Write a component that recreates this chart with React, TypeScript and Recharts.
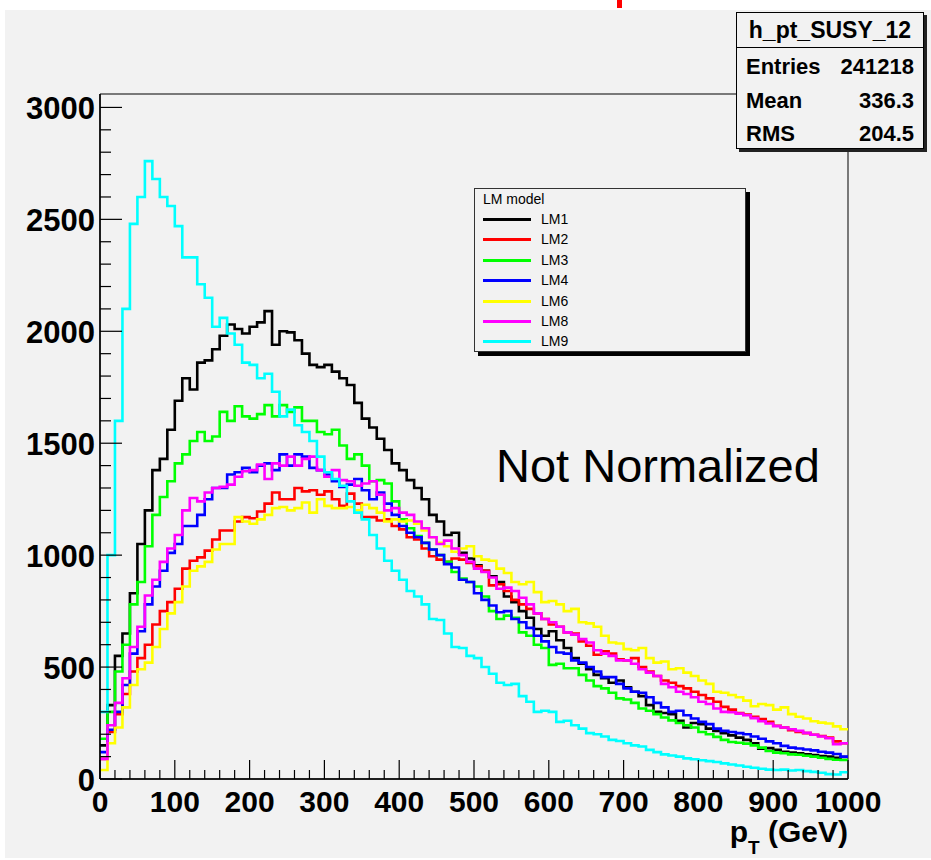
import React from 'react';
import { LineChart, Line, XAxis, YAxis, ReferenceArea } from 'recharts';

// bin low edges in GeV (10 GeV bins)
const binEdges = [
  0, 10, 20, 30, 40, 50, 60, 70, 80, 90, 100, 110, 120, 130, 140, 150, 160, 170, 180, 190,
  200, 210, 220, 230, 240, 250, 260, 270, 280, 290, 300, 310, 320, 330, 340, 350, 360, 370, 380, 390,
  400, 410, 420, 430, 440, 450, 460, 470, 480, 490, 500, 510, 520, 530, 540, 550, 560, 570, 580, 590,
  600, 610, 620, 630, 640, 650, 660, 670, 680, 690, 700, 710, 720, 730, 740, 750, 760, 770, 780, 790,
  800, 810, 820, 830, 840, 850, 860, 870, 880, 890, 900, 910, 920, 930, 940, 950, 960, 970, 980, 990,
  1000,
];

const lm1 = [
  150, 330, 550, 650, 830, 1050, 1200, 1380, 1430, 1560,
  1690, 1790, 1740, 1860, 1870, 1920, 1980, 2030, 2010, 1990,
  2020, 2040, 2090, 1940, 2000, 1995, 1960, 1900, 1850, 1840,
  1850, 1820, 1790, 1760, 1680, 1610, 1570, 1520, 1470, 1410,
  1380, 1335, 1300, 1250, 1180, 1150, 1090, 1100, 1010, 985,
  955, 930, 905, 880, 815, 790, 750, 720, 670, 640,
  660, 620, 585, 540, 515, 490, 465, 450, 430, 440,
  410, 390, 370, 330, 300, 295, 290, 260, 230, 250,
  245, 225, 215, 205, 195, 185, 175, 160, 135, 138,
  130, 122, 118, 115, 110, 107, 102, 100, 95, 98,
];

const lm2 = [
  90, 210, 290, 380, 480, 540, 600, 690, 750, 790,
  850, 940, 975, 990, 1020, 1070, 1110, 1110, 1150, 1170,
  1165, 1195, 1230, 1280, 1250, 1250, 1300, 1285, 1290, 1270,
  1285, 1250, 1220, 1275, 1230, 1170, 1170, 1155, 1160, 1130,
  1115, 1080, 1070, 1030, 995, 980, 970, 985, 980, 965,
  950, 930, 865, 870, 840, 800, 780, 760, 740, 715,
  690, 680, 655, 650, 615, 595, 555, 570, 560, 535,
  530, 540, 500, 480, 460, 440, 430, 415, 405, 390,
  375, 360, 345, 322, 310, 295, 288, 278, 268, 255,
  238, 230, 218, 210, 205, 198, 192, 185, 168, 160,
];

const lm3 = [
  180, 300, 480, 600, 780, 880, 1040, 1180, 1260, 1330,
  1410, 1450, 1510, 1550, 1510, 1530, 1640, 1600, 1665, 1620,
  1610, 1630, 1670, 1620, 1670, 1640, 1660, 1600, 1600, 1550,
  1540, 1560, 1490, 1430, 1450, 1400, 1330, 1335, 1320, 1240,
  1160, 1120, 1085, 1055, 1025, 1000, 970, 925, 895, 880,
  860, 815, 750, 715, 730, 720, 655, 640, 600, 585,
  510, 515, 495, 495, 465, 440, 415, 405, 385, 360,
  355, 340, 315, 305, 290, 275, 262, 250, 240, 230,
  210, 200, 188, 175, 165, 162, 158, 150, 140, 125,
  118, 115, 110, 108, 104, 100, 95, 90, 86, 85,
];

const lm4 = [
  120, 220, 300, 420, 560, 660, 780, 860, 930, 1010,
  1050, 1130, 1130, 1180, 1250, 1300, 1300, 1360, 1370, 1390,
  1370, 1400, 1410, 1380, 1450, 1400, 1450, 1440, 1390, 1380,
  1360, 1330, 1305, 1315, 1340, 1290, 1250, 1280, 1230, 1180,
  1130, 1100, 1080, 1055, 1025, 1000, 960, 945, 890, 880,
  830, 800, 775, 745, 750, 715, 700, 675, 640, 615,
  590, 565, 560, 530, 520, 500, 480, 455, 455, 425,
  405, 390, 385, 365, 340, 320, 300, 305, 285, 270,
  255, 245, 225, 215, 210, 205, 200, 190, 180, 168,
  160, 148, 140, 136, 132, 128, 122, 118, 112, 100,
];

const lm6 = [
  40, 160, 230, 320, 420, 490, 520, 590, 670, 740,
  790, 860, 930, 950, 970, 1025, 1050, 1050, 1170, 1150,
  1140, 1160, 1180, 1210, 1215, 1200, 1210, 1235, 1190, 1250,
  1220, 1210, 1210, 1215, 1200, 1225, 1210, 1190, 1150, 1160,
  1150, 1155, 1140, 1110, 1080, 1055, 1040, 1015, 1030, 1040,
  995, 980, 975, 940, 920, 880, 870, 880, 835, 790,
  795, 780, 750, 760, 700, 695, 680, 640, 610, 605,
  580, 575, 585, 540, 520, 525, 490, 495, 475, 460,
  440, 425, 390, 385, 375, 365, 350, 325, 335, 330,
  310, 320, 290, 278, 270, 258, 252, 248, 235, 222,
];

const lm8 = [
  90, 240, 340, 450, 590, 680, 820, 890, 970, 1030,
  1090, 1200, 1255, 1240, 1280, 1300, 1305, 1315, 1350, 1375,
  1380, 1405, 1340, 1410, 1400, 1440, 1400, 1430, 1440, 1380,
  1350, 1380, 1335, 1330, 1310, 1320, 1330, 1270, 1200, 1210,
  1190, 1180, 1150, 1120, 1080, 1050, 1065, 1030, 1000, 970,
  940, 925, 900, 850, 855, 840, 810, 780, 740, 715,
  700, 680, 655, 645, 625, 610, 575, 560, 550, 530,
  530, 515, 490, 475, 460, 425, 410, 390, 380, 365,
  345, 335, 315, 300, 298, 292, 285, 272, 258, 248,
  236, 230, 222, 215, 206, 198, 190, 182, 155, 160,
];

const lm9 = [
  300, 1000, 1600, 2100, 2480, 2600, 2760, 2680, 2600, 2560,
  2470, 2330, 2330, 2210, 2150, 2020, 2060, 1990, 1940, 1860,
  1850, 1790, 1810, 1730, 1620, 1650, 1580, 1550, 1510, 1440,
  1370, 1340, 1310, 1240, 1190, 1160, 1090, 1030, 975, 930,
  890, 840, 815, 780, 715, 710, 650, 590, 585, 550,
  540, 500, 470, 430, 420, 425, 370, 345, 300, 305,
  300, 255, 260, 240, 225, 205, 200, 190, 175, 170,
  160, 150, 145, 130, 120, 110, 105, 100, 92, 88,
  84, 80, 76, 70, 65, 60, 55, 50, 46, 42,
  40, 42, 38, 40, 35, 32, 28, 22, 20, 30,
];

const seriesNames = ['LM1', 'LM2', 'LM3', 'LM4', 'LM6', 'LM8', 'LM9'];
const seriesValues = [lm1, lm2, lm3, lm4, lm6, lm8, lm9];
const seriesColors = ['#000000', '#ff0000', '#00ff00', '#0000ff', '#ffff00', '#ff00ff', '#00ffff'];

const xMajorTicks = [0, 100, 200, 300, 400, 500, 600, 700, 800, 900, 1000];
const yMajorTicks = [0, 500, 1000, 1500, 2000, 2500, 3000];

const statsTitle = 'h_pt_SUSY_12';
const statsLabels = ['Entries', 'Mean', 'RMS'];
const statsValues = ['241218', '336.3', '204.5'];

// minor tick positions (axis decoration, not data)
const xTicks: number[] = [];
for (let v = 0; v <= 1000; v += 20) xTicks.push(v);
const yTicks: number[] = [];
for (let v = 0; v <= 3000; v += 100) yTicks.push(v);

// stepAfter table: one row per bin low edge, last edge repeats the last bin
const table = binEdges.map((x, i) => {
  const row: Record<string, number> = { x };
  seriesNames.forEach((name, s) => {
    const vals = seriesValues[s];
    row[name] = vals[Math.min(i, vals.length - 1)];
  });
  return row;
});

const FONT = '"Liberation Sans", Arial, Helvetica, sans-serif';
const BG = '#f2f2f2';

const XTick = (props: any) => {
  const { x, y, payload } = props;
  const v = payload.value;
  const major = xMajorTicks.includes(v);
  return (
    <g>
      <line x1={x} x2={x} y1={y} y2={y - (major ? 19 : 9)} stroke="#000" strokeWidth={1.2} />
      {major && (
        <text x={x} y={y + 33} textAnchor="middle" fontFamily={FONT} fontWeight="bold" fontSize={30} fill="#000">
          {v}
        </text>
      )}
    </g>
  );
};

const YTick = (props: any) => {
  const { x, y, payload } = props;
  const v = payload.value;
  const major = yMajorTicks.includes(v);
  return (
    <g>
      <line x1={x} x2={x + (major ? 22 : 11)} y1={y} y2={y} stroke="#000" strokeWidth={1.2} />
      {major && (
        <text x={x - 5} y={y + 12} textAnchor="end" fontFamily={FONT} fontWeight="bold" fontSize={31} fill="#000">
          {v}
        </text>
      )}
    </g>
  );
};

export default function App() {
  return (
    <div style={{ position: 'absolute', left: 0, top: 0, width: 931, height: 860, background: '#fff', overflow: 'hidden' }}>
      <div style={{ position: 'absolute', left: 5, top: 10, width: 926, height: 848, background: BG }} />
      <div style={{ position: 'absolute', left: 617, top: 0, width: 5, height: 8, background: '#ff0000' }} />

      <div style={{ position: 'absolute', left: 0, top: 0 }}>
        <LineChart width={931} height={860} data={table} margin={{ top: 94, right: 83, bottom: 0, left: 0 }}>
          <XAxis
            dataKey="x"
            type="number"
            domain={[0, 1000]}
            ticks={xTicks}
            interval={0}
            tickSize={0}
            tickMargin={0}
            tickLine={false}
            height={81}
            axisLine={{ stroke: '#000', strokeWidth: 1.5 }}
            tick={(p: any) => <XTick {...p} />}
          />
          <YAxis
            type="number"
            domain={[0, 3060]}
            ticks={yTicks}
            interval={0}
            tickSize={0}
            tickMargin={0}
            tickLine={false}
            width={100}
            axisLine={{ stroke: '#000', strokeWidth: 1.5 }}
            tick={(p: any) => <YTick {...p} />}
          />
          <ReferenceArea x1={0} x2={1000} y1={0} y2={3060} fill="none" stroke="#000" strokeWidth={1} />
          {seriesNames.map((name, i) => (
            <Line
              key={name}
              dataKey={name}
              type="stepAfter"
              stroke={seriesColors[i]}
              strokeWidth={2.6}
              dot={false}
              activeDot={false}
              isAnimationActive={false}
            />
          ))}
        </LineChart>
      </div>

      {/* stats box */}
      <div
        style={{
          position: 'absolute', left: 736, top: 12, width: 188, height: 137, boxSizing: 'border-box',
          border: '1px solid #000', background: BG, boxShadow: '3px 3px 0 #222', fontFamily: FONT,
          fontWeight: 'bold', color: '#000',
        }}
      >
        <div style={{ height: 34, borderBottom: '1px solid #000', textAlign: 'center', fontSize: 23, lineHeight: '34px' }}>
          {statsTitle}
        </div>
        {statsLabels.map((label, i) => (
          <div
            key={label}
            style={{
              position: 'absolute', left: 9, right: 9, top: 41 + i * 33.5, height: 26, lineHeight: '26px',
              fontSize: 22, display: 'flex', justifyContent: 'space-between',
            }}
          >
            <span>{label}</span>
            <span>{statsValues[i]}</span>
          </div>
        ))}
      </div>

      {/* legend */}
      <div
        style={{
          position: 'absolute', left: 474, top: 188, width: 272, height: 164, boxSizing: 'border-box',
          border: '1px solid #333', background: BG, boxShadow: '4px 4px 0 #000', fontFamily: FONT, color: '#000',
        }}
      >
        <div style={{ position: 'absolute', left: 8, top: 2, fontSize: 14, lineHeight: '16px' }}>LM model</div>
        {seriesNames.map((name, i) => (
          <div
            key={name}
            style={{ position: 'absolute', left: 8, top: Math.round(21 + i * 20.4), height: 18, display: 'flex', alignItems: 'center' }}
          >
            <div style={{ width: 48, height: 3, background: seriesColors[i] }} />
            <span style={{ marginLeft: 10, fontSize: 14 }}>{name}</span>
          </div>
        ))}
      </div>

      <svg width={931} height={860} style={{ position: 'absolute', left: 0, top: 0, pointerEvents: 'none' }}>
        <text x={496} y={482} fontFamily={FONT} fontSize={47} fill="#000">Not Normalized</text>
        <text x={848} y={842} textAnchor="end" fontFamily={FONT} fontWeight="bold" fontSize={30} fill="#000">
          p<tspan fontSize={19} dy={12}>T</tspan><tspan dy={-12}> (GeV)</tspan>
        </text>
      </svg>
    </div>
  );
}
